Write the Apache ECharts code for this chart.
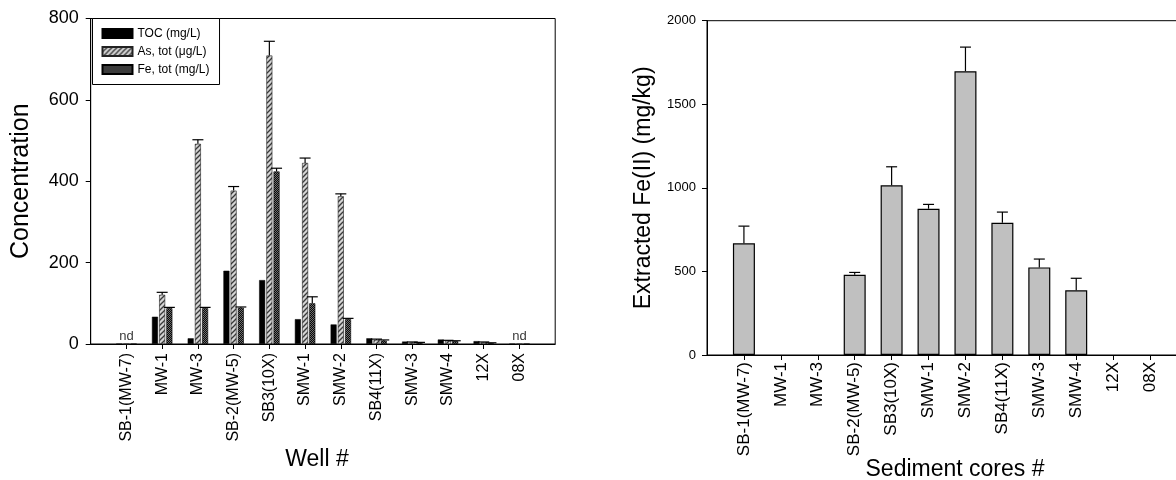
<!DOCTYPE html>
<html>
<head>
<meta charset="utf-8">
<script src="https://cdn.jsdelivr.net/npm/echarts@6/dist/echarts.min.js"></script>
<style>html,body{margin:0;padding:0;background:#fff;}#c{width:1176px;height:480px;}</style>
</head>
<body>
<div id="c"></div>
<script>
// ---- data ----
const categories = ['SB-1(MW-7)','MW-1','MW-3','SB-2(MW-5)','SB3(10X)','SMW-1','SMW-2','SB4(11X)','SMW-3','SMW-4','12X','08X'];
const tocValues = [0, 67, 14, 180, 157, 61, 48, 14, 6, 11, 7, 0];
const asValues  = [0, 121, 492, 377, 709, 445, 363, 10, 4, 8, 4, 0];
const asErrors  = [0, 6, 10, 10, 35, 12, 6, 2, 1, 1, 1, 0];
const feValues  = [0, 88, 88, 89, 424, 100, 61, 8, 3, 7, 1, 0];
const feErrors  = [0, 2, 2, 2, 8, 16, 2, 2, 1, 1, 2, 0];
const notDetected = ['SB-1(MW-7)', '08X'];
const fe2Values = [668, null, null, 480, 1015, 875, 1698, 791, 524, 387, null, null];
const fe2Errors = [103, 0, 0, 14, 111, 26, 144, 64, 50, 72, 0, 0];
const leftTicks = [0, 200, 400, 600, 800];
const rightTicks = [0, 500, 1000, 1500, 2000];
const seriesNames = ['TOC (mg/L)', 'As, tot (μg/L)', 'Fe, tot (mg/L)'];

// ---- helpers ----
const FONT = 'Liberation Sans, Arial, Helvetica, sans-serif';
const axisCats = [''].concat(categories, ['']);
const pad = arr => [null].concat(arr, [null]);

function hatch() {
  const c = document.createElement('canvas'); c.width = 5; c.height = 5;
  const g = c.getContext('2d');
  g.fillStyle = '#d4d4d4'; g.fillRect(0, 0, 5, 5);
  g.strokeStyle = '#3a3a3a'; g.lineWidth = 1.3;
  g.beginPath(); g.moveTo(-1, 6); g.lineTo(6, -1); g.stroke();
  g.beginPath(); g.moveTo(-1, 1); g.lineTo(1, -1); g.stroke();
  g.beginPath(); g.moveTo(4, 6); g.lineTo(6, 4); g.stroke();
  return {image: c, repeat: 'repeat'};
}
function checker() {
  const c = document.createElement('canvas'); c.width = 2; c.height = 2;
  const g = c.getContext('2d');
  g.fillStyle = '#0a0a0a'; g.fillRect(0, 0, 2, 2);
  g.fillStyle = '#6e6e6e'; g.fillRect(0, 0, 1, 1); g.fillRect(1, 1, 1, 1);
  return {image: c, repeat: 'repeat'};
}

const BW = 6, GAP = 1.2;
function errSeries(values, errors, offsetIndex, xi, yi, capW) {
  const data = [];
  values.forEach((v, i) => { if (v != null && errors[i] > 0) data.push([i + 1, v, v + errors[i]]); });
  return {
    type: 'custom', xAxisIndex: xi, yAxisIndex: yi, silent: true, z: 5,
    data: data,
    renderItem: function (params, api) {
      const off = offsetIndex * (BW + GAP);
      const p0 = api.coord([api.value(0), api.value(1)]);
      const p1 = api.coord([api.value(0), api.value(2)]);
      const x = p0[0] + off;
      return {type: 'group', children: [
        {type: 'line', shape: {x1: x, y1: p0[1], x2: x, y2: p1[1]}, style: {stroke: '#000', lineWidth: 1.2}},
        {type: 'line', shape: {x1: x - capW / 2, y1: p1[1], x2: x + capW / 2, y2: p1[1]}, style: {stroke: '#000', lineWidth: 1.2}}
      ]};
    }
  };
}

const ndData = notDetected.map(n => [categories.indexOf(n) + 1, 0]);

const xCommon = {
  type: 'category', data: axisCats, boundaryGap: false, nameMoveOverlap: false,
  axisLine: {lineStyle: {color: '#000', width: 1}},
  axisTick: {length: 5, lineStyle: {color: '#000'}, interval: (i) => i > 0 && i < axisCats.length - 1},
  splitLine: {show: false}
};

const option = {
  animation: false,
  backgroundColor: '#fff',
  textStyle: {fontFamily: FONT},
  grid: [
    {left: 90.7, top: 18.5, width: 464.5, height: 325.5, show: true, borderColor: '#000', borderWidth: 1, containLabel: false, outerBoundsMode: 'none'},
    {left: 707, top: 20.7, width: 480, height: 334.3, show: true, borderColor: '#000', borderWidth: 1, containLabel: false, outerBoundsMode: 'none'}
  ],
  legend: {
    data: seriesNames, orient: 'vertical', left: 92.5, top: 18.5,
    itemWidth: 30, itemHeight: 9, itemGap: 6,
    padding: [9, 10, 9, 9],
    borderColor: '#000', borderWidth: 1, backgroundColor: '#fff',
    textStyle: {fontSize: 12, color: '#000', fontFamily: FONT},
    icon: 'rect'
  },
  xAxis: [
    Object.assign({}, xCommon, {gridIndex: 0,
      name: 'Well #', nameLocation: 'middle', nameGap: 104,
      nameTextStyle: {fontSize: 23, color: '#000', fontFamily: FONT, padding: [0, 12, 0, 0]},
      axisLabel: {rotate: 90, interval: 0, margin: 9, fontSize: 16, color: '#000', fontFamily: FONT}}),
    Object.assign({}, xCommon, {gridIndex: 1,
      name: 'Sediment cores #', nameLocation: 'middle', nameGap: 103,
      nameTextStyle: {fontSize: 23, color: '#000', fontFamily: FONT, padding: [0, 0, 0, 16]},
      axisLabel: {rotate: 90, interval: 0, margin: 7, fontSize: 17, color: '#000', fontFamily: FONT}})
  ],
  yAxis: [
    {type: 'value', gridIndex: 0, min: leftTicks[0], max: leftTicks[leftTicks.length - 1], interval: leftTicks[1] - leftTicks[0],
      name: 'Concentration', nameLocation: 'middle', nameGap: 57, nameMoveOverlap: false,
      nameTextStyle: {fontSize: 25, color: '#000', fontFamily: FONT},
      axisLine: {show: true, lineStyle: {color: '#000'}},
      axisTick: {show: true, length: 5, lineStyle: {color: '#000'}},
      axisLabel: {fontSize: 18, color: '#000', margin: 12, fontFamily: FONT, formatter: v => String(v)},
      splitLine: {show: false}},
    {type: 'value', gridIndex: 1, min: rightTicks[0], max: rightTicks[rightTicks.length - 1], interval: rightTicks[1] - rightTicks[0],
      name: 'Extracted Fe(II) (mg/kg)', nameLocation: 'middle', nameGap: 52, nameMoveOverlap: false,
      nameTextStyle: {fontSize: 23, color: '#000', fontFamily: FONT},
      axisLine: {show: true, lineStyle: {color: '#000'}},
      axisTick: {show: true, length: 5, lineStyle: {color: '#000'}},
      axisLabel: {fontSize: 13, color: '#000', margin: 11, fontFamily: FONT, formatter: v => String(v)},
      splitLine: {show: false}}
  ],
  series: [
    {name: seriesNames[0], type: 'bar', xAxisIndex: 0, yAxisIndex: 0, data: pad(tocValues),
      barWidth: BW, barGap: '20%', itemStyle: {color: '#000', borderColor: '#000', borderWidth: 0.5}},
    {name: seriesNames[1], type: 'bar', xAxisIndex: 0, yAxisIndex: 0, data: pad(asValues),
      barWidth: BW, barGap: '20%', itemStyle: {color: hatch(), borderColor: '#222', borderWidth: 0.6}},
    {name: seriesNames[2], type: 'bar', xAxisIndex: 0, yAxisIndex: 0, data: pad(feValues),
      barWidth: BW, barGap: '20%', itemStyle: {color: checker(), borderColor: '#000', borderWidth: 0.6}},
    errSeries(asValues, asErrors, 0, 0, 0, 11),
    errSeries(feValues, feErrors, 1, 0, 0, 11),
    {type: 'scatter', xAxisIndex: 0, yAxisIndex: 0, data: ndData, symbolSize: 0, silent: true,
      label: {show: true, formatter: 'nd', position: 'top', distance: 1, fontSize: 13, color: '#000', fontFamily: FONT}},
    {name: 'Fe(II)', type: 'bar', xAxisIndex: 1, yAxisIndex: 1, data: pad(fe2Values),
      barWidth: 22, itemStyle: {color: '#c0c0c0', borderColor: '#000', borderWidth: 1.2}},
    errSeries(fe2Values, fe2Errors, 0, 1, 1, 11)
  ]
};
const chart = echarts.init(document.getElementById('c'), null, {renderer: 'canvas'});
chart.setOption(option);
</script>
</body>
</html>
